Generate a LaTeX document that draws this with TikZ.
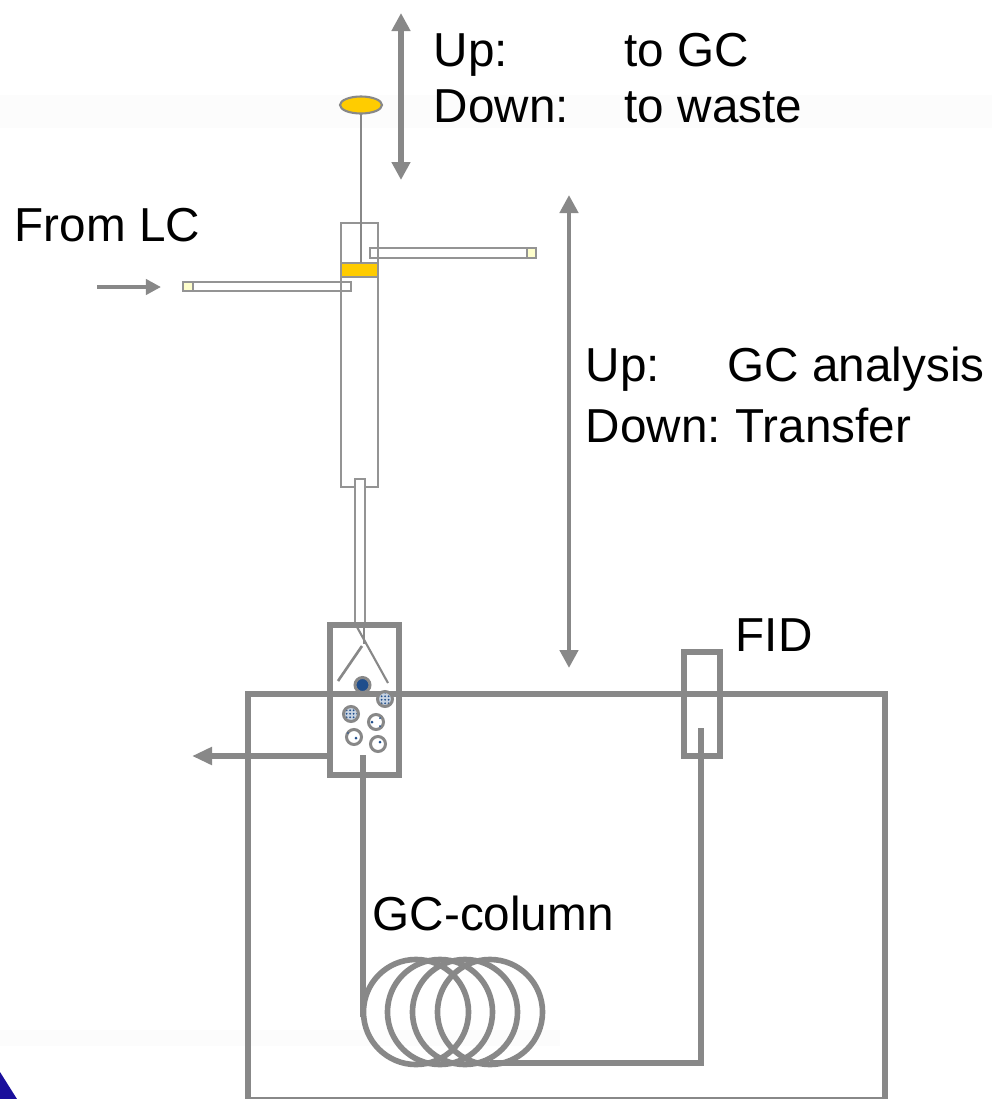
\documentclass[tikz,border=0pt]{standalone}
\usepackage{fontspec}
\setmainfont{Liberation Sans}
\usetikzlibrary{arrows.meta, patterns.meta, shapes.geometric}
\definecolor{linegray}{HTML}{888888}
\definecolor{plunger}{HTML}{FFCC00}
\definecolor{capyellow}{HTML}{FFFFCC}
\definecolor{darkdot}{HTML}{1F4E8C}
\definecolor{logoblue}{HTML}{1A0F9C}
\tikzset{
    thin box/.style={rectangle, draw=linegray!90, line width=0.55pt, inner sep=0pt, outer sep=0pt},
    thick box/.style={rectangle, draw=linegray, line width=1.7pt, inner sep=0pt, outer sep=0pt},
    tubebox/.style={thin box, fill=white},
    capbox/.style={thin box, fill=capyellow},
    port/.style={circle, draw=linegray, line width=0.85pt, fill=white, inner sep=0pt, outer sep=0pt, minimum size=0.15cm},
    hatched port/.style={circle, draw=linegray, line width=0.85pt, inner sep=0pt, outer sep=0pt, minimum size=0.15cm, preaction={fill=darkdot!25}, pattern={Dots[distance=0.35mm,radius=0.1mm]}, pattern color=darkdot},
    coil/.style={circle, draw=linegray, line width=1.6pt, inner sep=0pt, outer sep=0pt, minimum size=1.05cm},
    textlabel/.style={anchor=base west, inner sep=0pt, font=\fontsize{13.55}{16}\selectfont, text=black},
    move arrow/.style={draw=linegray, line width=1.6pt, {Triangle[length=1.8mm,width=1.8mm]}-{Triangle[length=1.8mm,width=1.8mm]}},
    flow arrow/.style={draw=linegray, line width=1.1pt, -{Triangle[length=1.5mm,width=1.5mm]}},
    pipe/.style={draw=linegray, line width=1.75pt}
}
\begin{document}
\begin{tikzpicture}[x=0.01cm, y=-0.01cm]
    \useasboundingbox (0,0) rectangle (992,1099);
    \clip (0,0) rectangle (992,1099);

    % Background remains
    \fill[black!1] (0,95) rectangle (992,128);
    \fill[black!1] (0,1030) rectangle (560,1046);
    \fill[logoblue] (0,1072) -- (17,1099) -- (0,1099) -- cycle;

    % Oven and detector
    \node[thick box, minimum width=6.37cm, minimum height=4.06cm] (oven) at (566.5,897) {};
    \node[thick box, minimum width=0.36cm, minimum height=1.04cm] (fid) at (702,704) {};

    % Syringe parts
    \node[tubebox, minimum width=1.66cm, minimum height=0.10cm] (outtube) at (453,253) {};
    \node[capbox, minimum width=0.09cm, minimum height=0.10cm] (outcap) at (531.5,253) {};
    \node[tubebox, minimum width=1.68cm, minimum height=0.09cm] (intube) at (267,286.5) {};
    \node[capbox, minimum width=0.10cm, minimum height=0.09cm] (incap) at (188,286.5) {};
    \node[thin box, minimum width=0.37cm, minimum height=2.64cm] (barrel) at (359.5,355) {};
    \node[thin box, fill=plunger, minimum width=0.37cm, minimum height=0.14cm] (piston) at (359.5,270) {};
    \node[ellipse, draw=linegray, line width=0.6pt, fill=plunger, inner sep=0pt, outer sep=0pt, minimum width=0.42cm, minimum height=0.17cm] (knob) at (361,105) {};
    \node[tubebox, line width=0.7pt, minimum width=0.10cm, minimum height=1.46cm] (needle) at (360,552) {};

    % Injector
    \node[thick box, minimum width=0.68cm, minimum height=1.50cm] (injector) at (364.5,700) {};
    \node[port, fill=darkdot] (p1) at (362.5,685) {};
    \node[hatched port] (p2) at (385,699) {};
    \node[hatched port] (p3) at (351,714) {};
    \node[port] (p4) at (376,722) {};
    \node[port] (p5) at (354,737) {};
    \node[port] (p6) at (378,744) {};
    \fill[darkdot] (372,722) circle (1.5) (380,718) circle (1) (380,726) circle (1) (356,738) circle (1.5) (348,733) circle (0.8) (380,742) circle (1.5);

    % Column coil
    \node[coil] (c1) at (416,1012) {};
    \node[coil] (c2) at (440,1012) {};
    \node[coil] (c3) at (465,1012) {};
    \node[coil] (c4) at (490,1012) {};

    % Named free ends
    \coordinate (knobfoot) at (361,113);
    \coordinate (pistontop) at (361,263);
    \coordinate (needlefoot) at (364,644);
    \coordinate (needleleft) at (357,627);
    \coordinate (needlestart) at (364,625);
    \coordinate (splitright) at (388,683);
    \coordinate (splitleft) at (338,681);
    \coordinate (splittop) at (362,646);
    \coordinate (columntop) at (363,755);
    \coordinate (columnturn) at (363,1017);
    \coordinate (fidfoot) at (701,728);
    \coordinate (fidturn) at (701,1063);
    \coordinate (coilend) at (490,1063);
    \coordinate (ventstart) at (330,756);
    \coordinate (ventend) at (192,756);
    \coordinate (updown1a) at (401,13);
    \coordinate (updown1b) at (401,180);
    \coordinate (updown2a) at (569,195);
    \coordinate (updown2b) at (569,668);
    \coordinate (flowstart) at (97,287);
    \coordinate (flowend) at (161,287);

    % Draw connections
    \draw[draw=linegray, line width=0.55pt] (knobfoot) -- (pistontop);
    \draw[draw=linegray, line width=0.6pt] (needlestart) -- (needlefoot);
    \draw[draw=linegray, line width=0.6pt] (needleleft) -- (splitright);
    \draw[draw=linegray, line width=0.75pt] (splittop) -- (splitleft);
    \draw[pipe] (columntop) -- (columnturn);
    \draw[pipe] (coilend) -- (fidturn) -- (fidfoot);
    \draw[pipe, line width=1.5pt, -{Triangle[length=2mm,width=1.7mm]}] (ventstart) -- (ventend);
    \draw[move arrow] (updown1a) -- (updown1b);
    \draw[move arrow, line width=1.3pt] (updown2a) -- (updown2b);
    \draw[flow arrow] (flowstart) -- (flowend);

    % Labels
    \node[textlabel] (up1) at (433,66) {Up:};
    \node[textlabel] (togc) at (624,66) {to GC};
    \node[textlabel] (down1) at (433,122.5) {Down:};
    \node[textlabel] (towaste) at (624,122.5) {to waste};
    \node[textlabel] (fromlc) at (14,241.5) {From LC};
    \node[textlabel] (up2) at (585,381) {Up:};
    \node[textlabel] (analysis) at (727,381) {GC analysis};
    \node[textlabel] (down2) at (585,442) {Down:\hspace{-0.3mm} Transfer};
    \node[textlabel] (fidtext) at (735,651) {FID};
    \node[textlabel] (columntext) at (372,930) {GC-column};
\end{tikzpicture}
\end{document}
